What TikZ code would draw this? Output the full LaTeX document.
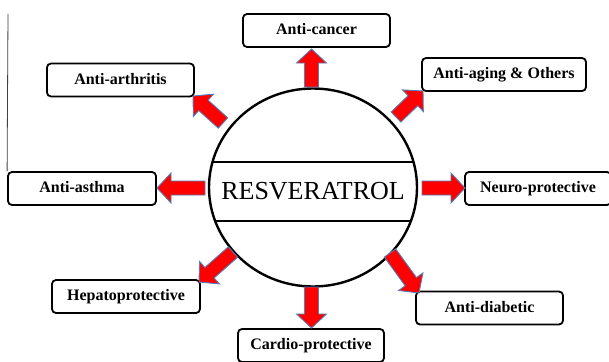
\documentclass[tikz,border=0pt]{standalone}
\usepackage{fontspec}
\setmainfont{Liberation Serif}
\usetikzlibrary{calc,shapes.geometric}
\definecolor{arrowblue}{HTML}{4F81BD}
\tikzset{
  box/.style={draw=black, line width=1.8pt, rounded corners=4pt, fill=white,
    minimum width=#1, minimum height=33pt, inner sep=0pt, text height=11pt, text depth=3pt,
    font=\fontsize{16}{19}\selectfont\bfseries},
  box/.default=147pt,
  blockarr/.style={fill=red, draw=arrowblue, line width=0.9pt, line join=miter},
  ring/.style={draw=black, line width=2.4pt, shape=ellipse, inner sep=0pt,
    minimum width=208pt, minimum height=198pt},
}
\newcommand\blockarrow[2]{%
  \coordinate (ba-h) at ($(#2)!14pt!(#1)$);
  \draw[blockarr] ($(#1)!7pt!-90:(#2)$) -- ($(ba-h)!7pt!90:(#1)$) -- ($(ba-h)!15pt!90:(#1)$)
    -- (#2) -- ($(ba-h)!15pt!-90:(#1)$) -- ($(ba-h)!7pt!-90:(#1)$) -- ($(#1)!7pt!90:(#2)$) -- cycle;
}
\begin{document}
\begin{tikzpicture}[x=1pt, y=-1pt]
\useasboundingbox (0,0) rectangle (609,361);
\fill[white] (0,0) rectangle (609,361);

% boxes
\node[box] (cancer) at (316.5,30.5) {Anti-cancer};
\node[box] (arthritis) at (120.5,80) {Anti-arthritis};
\node[box=164pt] (aging) at (504,74.5) {Anti-aging \& Others};
\node[box=148pt] (asthma) at (82,188.5) {Anti-asthma};
\node[box=146pt] (neuro) at (538,188.5) {Neuro-protective};
\node[box=148pt] (hepato) at (126,296.5) {Hepatoprotective};
\node[box=146pt] (cardio) at (311,345.5) {Cardio-protective};
\node[box] (diabetic) at (489.5,308) {Anti-diabetic};

% left rule
\coordinate (vl) at (8,14);
\draw[line width=0.8pt, black!75] (vl) -- (asthma.north west);

% central circle
\coordinate (c) at (313,187.5);
\begin{scope}
  \clip (c) ellipse [x radius=104, y radius=99];
  \draw[line width=2pt] (200,162) -- (430,162);
  \draw[line width=2pt] (200,221) -- (430,221);
\end{scope}
\node[ring] (res) at (c) {};
\node[anchor=base, inner sep=0pt, font=\fontsize{26}{30}\selectfont] (restext) at (313,199) {RESVERATROL};

% arrow ends
\coordinate (t1) at (311.5,87);   \coordinate (p1) at (311.5,49);
\coordinate (t2) at (311.5,287);  \coordinate (p2) at (311.5,328);
\coordinate (t3) at (205,188);    \coordinate (p3) at (157,188);
\coordinate (t4) at (422,188);    \coordinate (p4) at (465,188);
\coordinate (t5) at (396,117);    \coordinate (p5) at (423,91);
\coordinate (t6) at (223,123);    \coordinate (p6) at (193,96);
\coordinate (t7) at (233,252);    \coordinate (p7) at (199,282);
\coordinate (t8) at (390,253);    \coordinate (p8) at (419,293);

\blockarrow{t1}{p1}
\blockarrow{t2}{p2}
\blockarrow{t3}{p3}
\blockarrow{t4}{p4}
\blockarrow{t5}{p5}
\blockarrow{t6}{p6}
\blockarrow{t7}{p7}
\blockarrow{t8}{p8}
\end{tikzpicture}
\end{document}
